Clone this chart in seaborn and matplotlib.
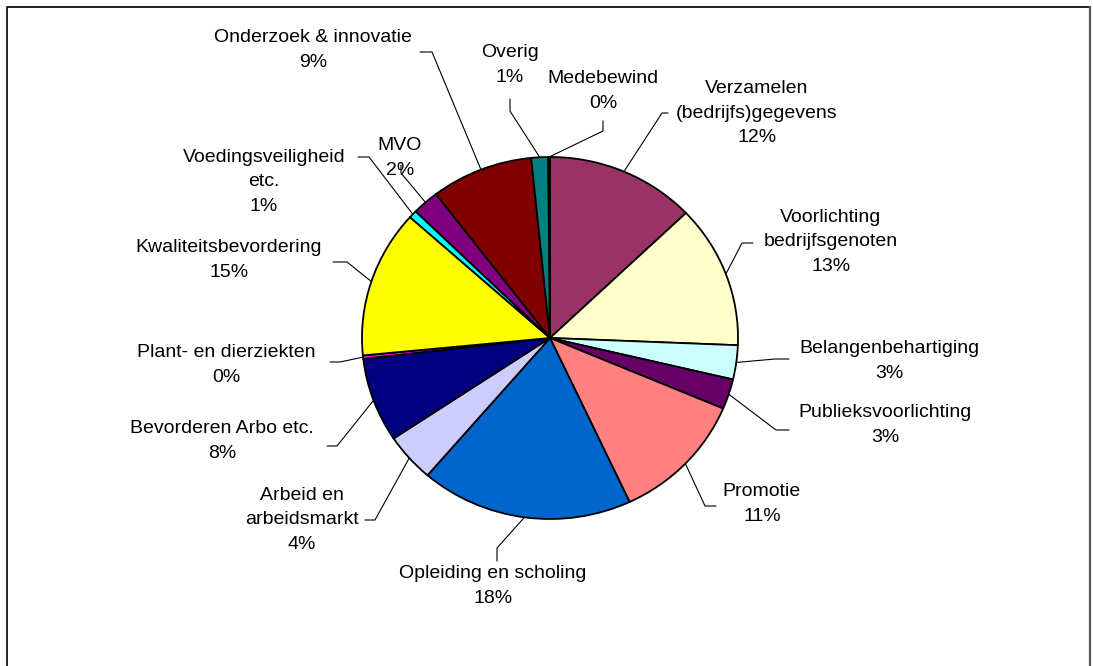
import numpy as np
import matplotlib.pyplot as plt
import seaborn as sns

sns.set_style('white')
plt.rcParams['font.family'] = ['Liberation Sans', 'DejaVu Sans']
plt.rcParams['text.color'] = 'black'

# slice data (clockwise from 12 o'clock)
categories = ['Verzamelen\n(bedrijfs)gegevens', 'Voorlichting\nbedrijfsgenoten',
              'Belangenbehartiging', 'Publieksvoorlichting', 'Promotie',
              'Opleiding en scholing', 'Arbeid en\narbeidsmarkt',
              'Bevorderen Arbo etc.', 'Plant- en dierziekten',
              'Kwaliteitsbevordering', 'Voedingsveiligheid\netc.', 'MVO',
              'Onderzoek & innovatie', 'Overig', 'Medebewind']
shares = [12.9, 12.8, 3.05, 2.7, 11.7, 18.3, 4.35, 7.55, 0.3,
          13.2, 0.7, 2.3, 8.8, 1.45, 0.15]
pct_labels = ['12%', '13%', '3%', '3%', '11%', '18%', '4%', '8%', '0%',
              '15%', '1%', '2%', '9%', '1%', '0%']
colors = ['#993366', '#FFFFCC', '#CCFFFF', '#660066', '#FF8080',
          '#0066CC', '#CCCCFF', '#000080', '#FF00FF', '#FFFF00',
          '#00FFFF', '#800080', '#800000', '#008080', '#0000FF']

# layout (pixels from the top-left corner)
W, H = 1093, 666
rx, ry = 188, 181
sy = rx / ry
cx, cy = 550, 338

label_pos = [(757, 113), (831, 242), (889, 361), (885, 425), (762, 504),
             (493, 586), (302, 520), (222, 441), (226, 365), (229, 260),
             (264, 182), (400, 158), (313, 50), (510, 65), (603, 91)]
leader_pts = [((662, 113), (668, 113)), ((742, 243), (753, 243)),
              ((775, 359), (789, 359)), ((776, 430), (789, 430)),
              ((705, 506), (716, 506)), ((497, 548), (497, 561)),
              ((375, 520), (365, 520)), ((337, 446), (327, 446)),
              ((340, 362), (330, 362)), ((347, 262), (333, 262)),
              ((369, 157), (358, 157)), ((401, 173), (401, 165)),
              ((432, 52), (420, 52)), ((510, 111), (510, 99)),
              ((603, 131), (603, 121))]


def to_data(x, y):
    return x, (H - y) * sy


fig = plt.figure(figsize=(W / 100, H / 100), dpi=100)
ax = fig.add_axes([0, 0, 1, 1])

wedges, _ = ax.pie(shares, colors=colors, startangle=90, counterclock=False,
                   center=to_data(cx, cy), radius=rx, frame=True,
                   wedgeprops=dict(edgecolor='black', linewidth=1.3))

for w, name, pct, (tx, ty), (elbow, attach) in zip(wedges, categories, pct_labels,
                                                   label_pos, leader_pts):
    mid = np.deg2rad((w.theta1 + w.theta2) / 2)
    ex = w.center[0] + rx * np.cos(mid)
    ey = w.center[1] + rx * np.sin(mid)
    ex2, ey2 = to_data(*elbow)
    ax2, ay2 = to_data(*attach)
    ax.plot([ex, ex2, ax2], [ey, ey2, ay2], color='black', lw=0.8)
    ax.text(*to_data(tx, ty), name + '\n' + pct, ha='center', va='center',
            multialignment='center', fontsize=14, linespacing=1.6,
            color='black')

# chart border
bx, by = zip(*[to_data(7, H), to_data(7, 7), to_data(1090, 7)])
ax.plot(bx, by, color='black', lw=1.2, clip_on=False)
bx, by = zip(*[to_data(1090, 7), to_data(1090, H)])
ax.plot(bx, by, color='#555555', lw=1.6, clip_on=False)

ax.set_xlim(0, W)
ax.set_ylim(0, H * sy)
ax.set_aspect('auto')
ax.axis('off')

plt.savefig('out.png', dpi=100)
